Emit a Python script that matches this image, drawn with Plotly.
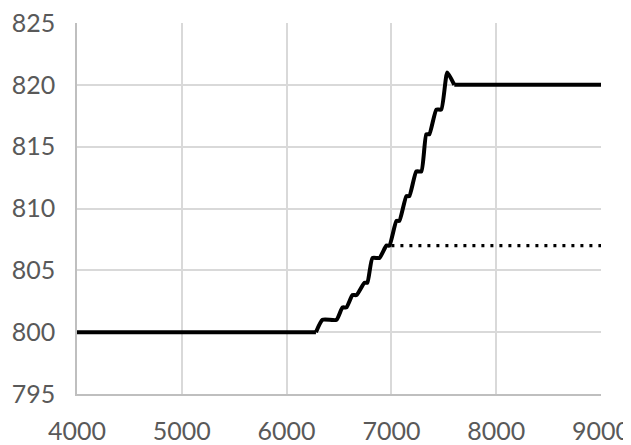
import plotly.graph_objects as go

# Solid series
solid_x = [4000, 6280, 6343, 6476, 6533, 6571, 6629, 6667, 6743, 6771, 6819, 6886,
           6952, 6981, 7048, 7076, 7143, 7171, 7238, 7286, 7333, 7362, 7429, 7476,
           7533, 7600, 9000]
solid_y = [800, 800, 801, 801, 802, 802, 803, 803, 804, 804, 806, 806,
           807, 807, 809, 809, 811, 811, 813, 813, 816, 816, 818, 818,
           821, 820, 820]

# Dotted series
dot_x = [7000, 9000]
dot_y = [807, 807]

x_ticks = [4000, 5000, 6000, 7000, 8000, 9000]
y_ticks = [795, 800, 805, 810, 815, 820, 825]

line_style = dict(color="black", width=4)

fig = go.Figure()
fig.add_trace(go.Scatter(x=dot_x, y=dot_y, mode="lines",
                         line=dict(color="black", width=3.4, dash="3px,6px"),
                         showlegend=False, hoverinfo="skip"))
# long flat parts drawn straight, the rising part smoothed
n = len(solid_x)
fig.add_trace(go.Scatter(x=solid_x[:2], y=solid_y[:2], mode="lines",
                         line=line_style, showlegend=False, hoverinfo="skip"))
fig.add_trace(go.Scatter(x=solid_x[1:n - 1], y=solid_y[1:n - 1], mode="lines",
                         line=dict(**line_style, shape="spline", smoothing=0.5),
                         showlegend=False, hoverinfo="skip"))
fig.add_trace(go.Scatter(x=solid_x[n - 2:], y=solid_y[n - 2:], mode="lines",
                         line=line_style, showlegend=False, hoverinfo="skip"))

font = dict(family="Lato, 'Open Sans', sans-serif", size=25, color="#595959")
# page body has an 8px margin, so the figure is 16px smaller than the window
fig.update_layout(
    width=623, height=437,
    margin=dict(l=69, r=30, t=15, b=51, autoexpand=False),
    paper_bgcolor="white", plot_bgcolor="white",
    font=font,
    xaxis=dict(range=[4000, 9000], tickvals=x_ticks, ticktext=[str(v) for v in x_ticks],
               showgrid=True, gridcolor="#d9d9d9", gridwidth=1.5,
               showline=True, linecolor="#bfbfbf", linewidth=1.5,
               zeroline=False, ticks="outside", ticklen=14, tickcolor="rgba(0,0,0,0)",
               tickfont=font, fixedrange=True, automargin=False,
               ticklabeloverflow="allow"),
    yaxis=dict(range=[795, 825], tickvals=y_ticks, ticktext=[str(v) for v in y_ticks],
               showgrid=True, gridcolor="#d9d9d9", gridwidth=1.5,
               showline=True, linecolor="#bfbfbf", linewidth=1.5,
               zeroline=False, ticks="outside", ticklen=15, tickcolor="rgba(0,0,0,0)",
               tickfont=font, fixedrange=True, automargin=False,
               ticklabeloverflow="allow"),
)

fig.write_html("out.html")
